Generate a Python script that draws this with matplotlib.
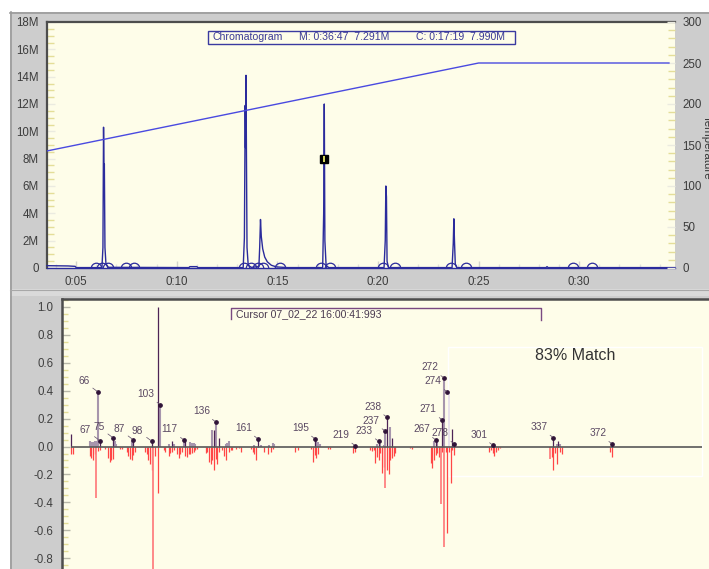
import matplotlib
matplotlib.use("Agg")
import numpy as np
import matplotlib.pyplot as plt
import matplotlib.ticker as mt
from matplotlib.path import Path
from matplotlib.markers import MarkerStyle
from matplotlib.patches import Rectangle
from matplotlib.lines import Line2D

plt.rcParams['font.family'] = ['Liberation Sans', 'DejaVu Sans']
plt.rcParams['axes.unicode_minus'] = False

# ---------------- data: chromatogram (top panel) ----------------
chrom_time = [3.55, 4.6, 4.95, 5.0, 6.28, 6.33, 6.36, 6.385, 6.40, 6.43, 6.48, 6.6,
              10.6, 10.65, 11.0, 11.05,
              13.30, 13.36, 13.40, 13.42, 13.44, 13.46, 13.49, 13.55, 13.7,
              14.08, 14.12, 14.16, 14.20, 14.27, 14.37, 14.5, 14.7, 14.95, 15.5,
              17.25, 17.30, 17.33, 17.36, 17.42, 17.55,
              20.30, 20.36, 20.39, 20.42, 20.45, 20.52,
              23.68, 23.74, 23.77, 23.80, 23.84, 23.92,
              28.35, 28.4, 28.45, 34.76]
chrom_signal_M = [0.17, 0.15, 0.12, 0.03, 0.03, 1.5, 10.3, 6.8, 7.6, 1.5, 0.3, 0.05,
                  0.03, 0.1, 0.1, 0.03,
                  0.03, 2.2, 11.9, 8.8, 14.1, 8.8, 1.5, 0.2, 0.05,
                  0.1, 1.5, 3.55, 2.3, 1.4, 0.8, 0.45, 0.2, 0.08, 0.03,
                  0.03, 4.0, 12.0, 2.0, 0.2, 0.03,
                  0.03, 2.0, 6.0, 5.2, 0.5, 0.03,
                  0.03, 1.8, 3.6, 2.0, 0.3, 0.03,
                  0.03, 0.1, 0.03, 0.03]
peak_marker_time = [5.97, 6.28, 6.58, 7.48, 7.86, 13.36, 13.69, 14.02, 14.29, 15.15,
                    17.17, 17.63, 20.23, 20.85, 23.63, 24.37, 29.68, 30.65]
temp_time = [3.55, 25.0, 34.46]
temp_value = [142.75, 250.0, 250.0]
cursor_time = 17.34
cursor_signal_M = 8.0

# ---------------- data: mirror spectrum (bottom panel) ----------------
pos_light_mz = [61, 62, 63, 64, 65, 66, 76, 77, 86, 103, 108, 111, 117, 121, 122, 123, 124,
                134, 136, 142, 143, 144, 159, 163, 168, 170, 171, 196, 197, 198,
                232, 234, 236, 237, 240, 266, 268, 272, 301, 339, 341]
pos_light_int = [0.036, 0.033, 0.03, 0.038, 0.04, 0.39, 0.036, 0.02, 0.04, 0.30, 0.02, 0.02, 0.048,
                 0.03, 0.027, 0.027, 0.017,
                 0.12, 0.177, 0.017, 0.026, 0.038, 0.01, 0.01, 0.01, 0.026, 0.017, 0.04, 0.033, 0.017,
                 0.017, 0.017, 0.01, 0.11, 0.136, 0.043, 0.052, 0.49, 0.005, 0.02, 0.02]
pos_ghost_mz = [275]
pos_ghost_int = [0.39]
pos_dark_mz = [50, 67, 75, 87, 98, 102, 110, 118, 135, 138, 161, 195, 219, 233, 238, 241,
               267, 271, 277, 278, 302, 337, 340, 372]
pos_dark_int = [0.088, 0.043, 0.062, 0.048, 0.038, 1.0, 0.04, 0.04, 0.12, 0.064, 0.057, 0.057,
                0.007, 0.038, 0.21, 0.064, 0.048, 0.19, 0.126, 0.02, 0.01, 0.064, 0.036, 0.019]

neg_red_mz = [50, 51, 61, 62, 63, 64, 66, 67, 70, 72, 73, 74, 75, 79, 80, 83, 84, 85, 86, 87, 88,
              94, 95, 96, 97, 98, 100, 102, 105, 106, 108, 109, 110, 111, 113, 114, 115, 116,
              118, 119, 120, 121, 122, 123, 124, 125, 130, 131, 132, 133, 134, 135, 136, 137,
              138, 140, 141, 142, 144, 145, 146, 148, 150, 151, 157, 158, 159, 160, 162, 165,
              167, 169, 170, 183, 185, 193, 194, 195, 196, 197, 203, 204, 218, 219, 228, 229,
              230, 231, 232, 233, 234, 235, 236, 238, 239, 240, 241, 242, 243, 252, 253,
              264, 265, 266, 267, 268, 269, 271, 273, 274, 275, 276, 277, 278,
              299, 300, 301, 302, 303, 304, 305, 336, 337, 338, 339, 341, 342, 371, 372]
neg_red_int = [-0.057, -0.057, -0.069, -0.079, -0.093, -0.05, -0.03, -0.026, -0.02, -0.079, -0.11,
               -0.093, -0.086, -0.021, -0.021, -0.038, -0.069, -0.086, -0.093, -0.064, -0.036,
               -0.04, -0.05, -0.098, -0.126, -0.17, -0.07, -0.33, -0.026, -0.038, -0.069, -0.045,
               -0.038, -0.026, -0.05, -0.079, -0.055, -0.038,
               -0.069, -0.074, -0.055, -0.05, -0.045, -0.038, -0.026, -0.021, -0.045, -0.038,
               -0.11, -0.126, -0.098, -0.17, -0.086, -0.126,
               -0.038, -0.026, -0.069, -0.093, -0.038, -0.026, -0.026, -0.021, -0.014, -0.038,
               -0.021, -0.038, -0.05, -0.093, -0.007, -0.038,
               -0.05, -0.038, -0.021, -0.038, -0.026, -0.021, -0.11, -0.062, -0.079, -0.05,
               -0.021, -0.021, -0.045, -0.038, -0.026, -0.031,
               -0.026, -0.12, -0.074, -0.1, -0.045, -0.19, -0.146, -0.17, -0.2, -0.1, -0.079,
               -0.069, -0.045, -0.014, -0.021,
               -0.12, -0.155, -0.095, -0.06, -0.048, -0.076, -0.036, -0.036, -0.616, -0.036,
               -0.258, -0.024, -0.06,
               -0.036, -0.024, -0.048, -0.067, -0.036, -0.024, -0.014, -0.072, -0.167, -0.048,
               -0.126, -0.036, -0.052, -0.04, -0.072]
neg_pink_mz = [65, 99, 237, 270, 272, 335]
neg_pink_int = [-0.37, -0.95, -0.294, -0.41, -0.72, -0.09]

label_mz = [66, 67, 75, 87, 98, 103, 117, 136, 161, 195, 219, 233, 237, 238,
            267, 271, 272, 274, 278, 301, 337, 372]
label_int = [0.39, 0.043, 0.062, 0.048, 0.038, 0.30, 0.048, 0.177, 0.057, 0.057, 0.007, 0.038,
             0.11, 0.21, 0.048, 0.19, 0.49, 0.39, 0.02, 0.01, 0.064, 0.019]

match_text = "83% Match"
cursor_text = "Cursor 07_02_22 16:00:41:993"
chrom_title = ["Chromatogram", "M: 0:36:47  7.291M", "C: 0:17:19  7.990M"]

# ---------------- styling ----------------
W, H = 709, 569
CREAM = '#fefde9'
GRAY = '#cdcdcd'
NAVY = '#2b2b9c'
TEMP = '#4a4ae0'
TICKY = '#e4de98'
TICKW = '#ebebe0'
DARKB = '#4d4d4d'

fig = plt.figure(figsize=(W / 100, H / 100), dpi=100, facecolor='white')


def fr(x0, y0, x1, y1):
    return [x0 / W, 1 - y1 / H, (x1 - x0) / W, (y1 - y0) / H]


def frect(x0, y0, x1, y1, z=-10, **kw):
    r = Rectangle((x0 / W, 1 - y1 / H), (x1 - x0) / W, (y1 - y0) / H,
                  transform=fig.transFigure, zorder=z, **kw)
    fig.patches.append(r)


def fline(xs, ys, z=-5, **kw):
    fig.lines.append(Line2D([x / W for x in xs], [1 - y / H for y in ys],
                            transform=fig.transFigure, zorder=z, **kw))


# background frames
frect(10, 12, 709, 289, facecolor=GRAY, edgecolor='none')
frect(10, 289, 709, 296, facecolor='#dadada', edgecolor='none')
frect(10, 296, 709, 569, facecolor=GRAY, edgecolor='none')
fline([10, 709], [12.5, 12.5], color='#9a9a9a', lw=1.2)
fline([10.5, 10.5], [12, 569], color='#9a9a9a', lw=1.2)
fline([10, 709], [289.5, 289.5], color='#a8a8a8', lw=0.8)

# ---------------- top panel ----------------
ax1 = fig.add_axes(fr(47, 22, 675, 268), facecolor=CREAM)
ax1.set_xlim(3.55, 34.76)
ax1.set_ylim(0, 18)
ax1.spines['right'].set_visible(False)
for s in ['top', 'left']:
    ax1.spines[s].set_color(DARKB)
    ax1.spines[s].set_linewidth(1.6)
ax1.spines['bottom'].set_color(NAVY)
ax1.spines['bottom'].set_linewidth(1.0)

ax1.plot(chrom_time, chrom_signal_M, color=NAVY, lw=1.0, zorder=4, clip_on=False)

arc = MarkerStyle(Path.arc(0, 180))
ax1.plot(peak_marker_time, np.zeros(len(peak_marker_time)), linestyle='none',
         marker=arc, markersize=7.6, markerfacecolor='none', markeredgecolor=NAVY,
         markeredgewidth=0.9, zorder=5)

ax1.plot([cursor_time], [cursor_signal_M], marker='s', markersize=5.8,
         markerfacecolor='black', markeredgecolor='black', zorder=6)
ax1.plot([cursor_time], [cursor_signal_M], marker='|', markersize=4.2,
         markeredgewidth=1.2, color='#ffff70', zorder=7)

ax1.xaxis.set_major_locator(mt.MultipleLocator(5))
ax1.xaxis.set_minor_locator(mt.MultipleLocator(1))
ax1.xaxis.set_major_formatter(mt.FuncFormatter(lambda v, p: f"0:{int(round(v)):02d}"))
ax1.yaxis.set_major_locator(mt.MultipleLocator(2))
ax1.yaxis.set_minor_locator(mt.MultipleLocator(0.5))
ax1.yaxis.set_major_formatter(mt.FuncFormatter(lambda v, p: "0" if v == 0 else f"{int(round(v))}M"))
ax1.tick_params(axis='x', which='major', direction='in', length=5, width=1,
                color='#d4d4cc', labelcolor='#3c3c3c', labelsize=8.3, pad=6)
ax1.tick_params(axis='x', which='minor', direction='in', length=3, width=1, color='#e2e2da')
ax1.tick_params(axis='y', which='major', direction='in', length=6, width=1,
                color=TICKW, labelcolor='#3c3c3c', labelsize=8.3, pad=6)
ax1.tick_params(axis='y', which='minor', direction='in', length=5, width=1, color=TICKY)

ax1r = ax1.twinx()
ax1r.set_ylim(0, 300)
for s in ax1r.spines.values():
    s.set_visible(False)
ax1r.plot(temp_time, temp_value, color=TEMP, lw=1.0, zorder=3)
ax1r.yaxis.set_major_locator(mt.MultipleLocator(50))
ax1r.yaxis.set_minor_locator(mt.MultipleLocator(10))
ax1r.tick_params(axis='y', which='major', direction='in', length=6, width=1,
                 color=TICKW, labelcolor='#3c3c3c', labelsize=8.3, pad=5.5)
ax1r.tick_params(axis='y', which='minor', direction='in', length=5, width=1, color=TICKY)

# chromatogram title box
frect(207.5, 31, 515, 43.5, z=10, facecolor='none', edgecolor='#3a3aa0', lw=1.0)
for txt, xp in zip(chrom_title, [213, 299, 416.5]):
    fig.text(xp / W, 1 - 37.5 / H, txt, ha='left', va='center', fontsize=7.6,
             color='#3a3a96', zorder=11)

fig.text(707 / W, 1 - 147 / H, 'Temperature', rotation=270, ha='center', va='center',
         fontsize=8.3, color='#3c3c3c')

# ---------------- bottom panel ----------------
ax2 = fig.add_axes(fr(62, 299, 709, 569), facecolor=CREAM)
ax2.set_xlim(44.57, 429.7)
ax2.set_ylim(-0.876, 1.055)
for s in ['right', 'bottom']:
    ax2.spines[s].set_visible(False)
for s in ['top', 'left']:
    ax2.spines[s].set_color(DARKB)
    ax2.spines[s].set_linewidth(1.8)
ax2.set_xticks([])
ax2.yaxis.set_major_locator(mt.MultipleLocator(0.2))
ax2.yaxis.set_minor_locator(mt.MultipleLocator(0.05))
ax2.yaxis.set_major_formatter(mt.FuncFormatter(lambda v, p: f"{v:.1f}" if abs(v) > 1e-9 else "0.0"))
ax2.tick_params(axis='y', which='major', direction='in', length=6, width=1,
                color='#b8b8a8', labelcolor='#404040', labelsize=8.3, pad=6)
ax2.tick_params(axis='y', which='minor', direction='in', length=4, width=1, color=TICKY)

# faint match frame
ax2.add_patch(Rectangle((0.5966, 0.3456), 0.9887 - 0.5966, 0.822 - 0.3456,
                        transform=ax2.transAxes, facecolor='none', edgecolor='white',
                        lw=1.0, zorder=1))

ax2.vlines(neg_red_mz, 0, neg_red_int, colors='#ff4646', lw=0.9, zorder=2)
ax2.vlines(neg_pink_mz, 0, neg_pink_int, colors='#ff8080', lw=1.3, zorder=2)
ax2.vlines(pos_ghost_mz, 0, pos_ghost_int, colors='#e4dce8', lw=1.2, zorder=2)
ax2.vlines(pos_light_mz, 0, pos_light_int, colors='#a796ad', lw=1.5, zorder=3)
ax2.vlines(pos_dark_mz, 0, pos_dark_int, colors='#4e2456', lw=0.9, zorder=4)
ax2.hlines(0, 50, 425.4, colors='#585858', lw=1.2, zorder=5)

ax2.plot(label_mz, label_int, linestyle='none', marker='o', markersize=2.4,
         color='#301438', zorder=6)
for m, v in zip(label_mz, label_int):
    ax2.annotate(str(m), xy=(m, v), xytext=(-10.2, 7.6), textcoords='offset points',
                 ha='center', va='center', fontsize=7.3, color='#5a4862', zorder=7,
                 arrowprops=dict(arrowstyle='-', color='#6a5a72', lw=0.55,
                                 shrinkA=0.5, shrinkB=1.0))

ax2.text(0.793, 0.79, match_text, transform=ax2.transAxes, ha='center', va='center',
         fontsize=11.5, color='#333333', zorder=8)

# cursor box (open at bottom)
fline([230.5, 230.5, 541, 541], [319, 308, 308, 320], z=10, color='#7a4a82', lw=1.0)
fig.text(235.5 / W, 1 - 314 / H, cursor_text, ha='left', va='center', fontsize=7.6,
         color='#4a3a50', zorder=11)

fig.savefig('out.png', dpi=100, facecolor=fig.get_facecolor())
